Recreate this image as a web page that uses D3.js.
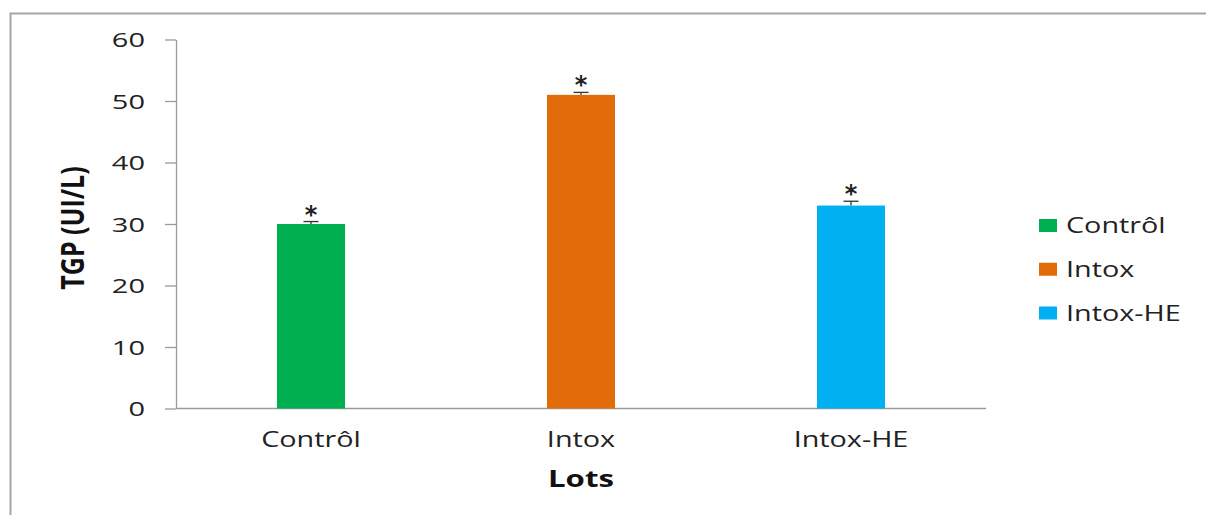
<!DOCTYPE html>
<html>
<head>
<meta charset="utf-8">
<script src="https://cdn.jsdelivr.net/npm/d3@7"></script>
<style>
  html, body { margin: 0; padding: 0; background: #fff; }
  svg { display: block; }
</style>
</head>
<body>
<svg id="chart" width="1206" height="515"></svg>
<script>
// Serum TGP activity per group (UI/L), mean with upper error
const categories = ["Contrôl", "Intox", "Intox-HE"];
const values = [30, 51, 33];
const errors = [0.4, 0.4, 0.7];
const colors = ["#00b050", "#e36c0a", "#00b0f0"];
const yTicks = [0, 10, 20, 30, 40, 50, 60];
const marks = ["*", "*", "*"];

const svg = d3.select("#chart");
const W = 1206, H = 515;
const STRETCH = 1.3;   // wide-set lettering used throughout
const FONT = "'Open Sans', sans-serif";

// outer chart frame
svg.append("path")
  .attr("d", `M10.5,${H} V13.5 H${W}`)
  .attr("fill", "none")
  .attr("stroke", "#a6a6a6")
  .attr("stroke-width", 2);

const plot = { left: 176, right: 986, top: 39.5, bottom: 408.5 };

const x = d3.scaleBand()
  .domain(categories)
  .range([plot.left, plot.right])
  .paddingInner(0.748)
  .paddingOuter(0.374);

const y = d3.scaleLinear()
  .domain([0, 60])
  .range([plot.bottom, plot.top]);

// horizontal text placed at (px,py), stretched sideways
function label(parent, px, py, txt, opts) {
  const g = parent.append("g")
    .attr("transform", `translate(${px},${py}) scale(${opts.stretch || STRETCH},1)`);
  return g.append("text")
    .attr("text-anchor", opts.anchor || "middle")
    .attr("fill", opts.fill || "#222")
    .style("font-family", FONT)
    .style("font-size", opts.size + "px")
    .style("font-weight", opts.weight || "normal")
    .text(txt);
}

// y axis
const yAxis = svg.append("g")
  .attr("transform", `translate(${plot.left},0)`)
  .call(d3.axisLeft(y).tickValues(yTicks).tickSize(11).tickSizeOuter(0));
yAxis.select(".domain").attr("stroke", "#9a9a9a").attr("stroke-width", 1.3);
yAxis.selectAll(".tick line").attr("stroke", "#9a9a9a").attr("stroke-width", 1.3);
yAxis.selectAll(".tick text")
  .attr("x", 0)
  .attr("dy", "0.37em")
  .attr("transform", `translate(-31,0) scale(1.45,1)`)
  .attr("fill", "#222")
  .style("font-family", FONT)
  .style("font-size", "20px");

// x axis baseline
svg.append("line")
  .attr("x1", plot.left).attr("x2", plot.right)
  .attr("y1", y(0)).attr("y2", y(0))
  .attr("stroke", "#9a9a9a").attr("stroke-width", 1.5);

// bars
svg.selectAll("rect.bar")
  .data(categories)
  .join("rect")
  .attr("class", "bar")
  .attr("x", d => x(d))
  .attr("width", x.bandwidth())
  .attr("y", (d, i) => y(values[i]))
  .attr("height", (d, i) => y(0) - y(values[i]))
  .attr("fill", (d, i) => colors[i]);

// error bars (upper whisker only)
const eb = svg.selectAll("g.err")
  .data(categories)
  .join("g")
  .attr("class", "err");
eb.append("line")
  .attr("x1", d => x(d) + x.bandwidth() / 2)
  .attr("x2", d => x(d) + x.bandwidth() / 2)
  .attr("y1", (d, i) => y(values[i]))
  .attr("y2", (d, i) => y(values[i] + errors[i]))
  .attr("stroke", "#333").attr("stroke-width", 1.3);
eb.append("line")
  .attr("x1", d => x(d) + x.bandwidth() / 2 - 7.5)
  .attr("x2", d => x(d) + x.bandwidth() / 2 + 7.5)
  .attr("y1", (d, i) => y(values[i] + errors[i]))
  .attr("y2", (d, i) => y(values[i] + errors[i]))
  .attr("stroke", "#333").attr("stroke-width", 1.3);

// significance marks
svg.selectAll("text.sig")
  .data(categories)
  .join("text")
  .attr("class", "sig")
  .attr("x", d => x(d) + x.bandwidth() / 2)
  .attr("y", (d, i) => y(values[i] + errors[i]) + 1)
  .attr("text-anchor", "middle")
  .attr("fill", "#222")
  .style("font-family", "'DejaVu Sans', sans-serif")
  .style("font-weight", "bold")
  .style("font-size", "24px")
  .text((d, i) => marks[i]);

// category labels
categories.forEach(c => {
  label(svg, x(c) + x.bandwidth() / 2, 447, c, { size: 21, stretch: 1.37 });
});

// axis titles
label(svg, (plot.left + plot.right) / 2, 487, "Lots",
  { size: 24, weight: "bold", fill: "#111" });

svg.append("g")
  .attr("transform", `translate(84,${(plot.top + plot.bottom) / 2 + 4}) scale(${STRETCH},1) rotate(-90)`)
  .append("text")
  .attr("text-anchor", "middle")
  .attr("fill", "#111")
  .style("font-family", FONT)
  .style("font-weight", "bold")
  .style("font-size", "25px")
  .text("TGP (UI/L)");

// legend
const legend = svg.append("g").attr("transform", "translate(1039,225.5)");
categories.forEach((c, i) => {
  legend.append("rect")
    .attr("x", 0).attr("y", i * 43.75 - 6.5)
    .attr("width", 18).attr("height", 13)
    .attr("fill", colors[i]);
  label(legend, 27, i * 43.75 + 7.5, c, { size: 21, stretch: 1.37, anchor: "start" });
});
</script>
</body>
</html>
